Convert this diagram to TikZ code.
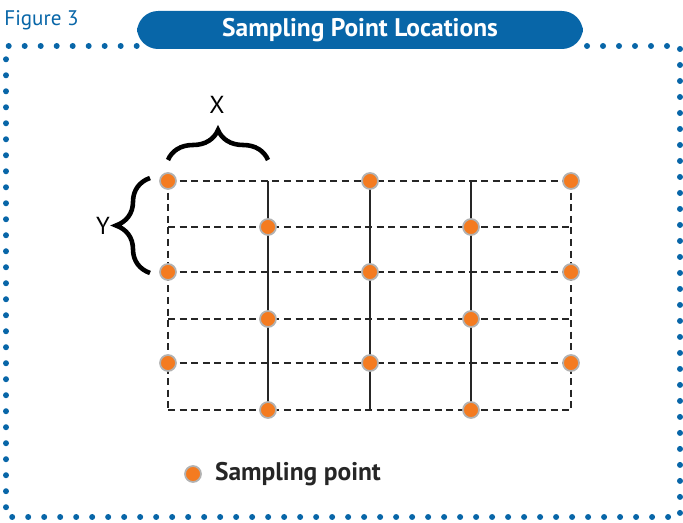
\documentclass[tikz,border=0pt]{standalone}
\usepackage{fontspec}
\setmainfont{PT Sans}
\usetikzlibrary{positioning,decorations.pathreplacing}
\definecolor{frameblue}{HTML}{0866A8}
\definecolor{dotorange}{HTML}{F47B20}

\begin{document}
\begin{tikzpicture}[
  x=0.02cm,y=-0.02cm,
  sample/.style={circle,fill=dotorange,draw=black!30,line width=1pt,minimum size=0.32cm,inner sep=0pt},
  gridline/.style={line width=0.8pt,black!85,dash pattern=on 4pt off 2.6pt},
  solidline/.style={line width=0.8pt,black!85},
  bracket/.style={decorate,decoration={brace,amplitude=#1},line width=2.6pt},
  dotframe/.style={frameblue,line width=0.12cm,line cap=round,dash pattern=on 0pt off 0.32cm},
  titlebar/.style={fill=frameblue,rounded corners=12pt,minimum width=8.92cm,minimum height=0.76cm,
    text=white,font=\fontsize{14.5}{14.5}\selectfont\bfseries}
]
  \useasboundingbox (0,0) rectangle (683,523);

  \node[titlebar] (title) at (360,30) {Sampling Point Locations};
  \node[frameblue,font=\fontsize{12}{12}\selectfont,inner sep=0pt,anchor=west] (fig) at (4,20) {Figure 3};
  \draw[dotframe] (title.west|-0,46) -- (6,46) -- (6,517) -- (680,517) -- (680,46) -- (title.east|-0,46);

  \foreach \x [count=\i] in {168,268,370,471,571}
    \foreach \y [count=\j] in {181,227,272,319,363,410}
      \coordinate (g\i\j) at (\x,\y);

  \foreach \j in {1,...,6}
    \draw[gridline] (g1\j) -- (g5\j);
  \draw[gridline] (g11) -- (g16);
  \draw[gridline] (g51) -- (g56);
  \foreach \i in {2,3,4}
    \draw[solidline] (g\i1) -- (g\i6);

  \foreach \i in {1,3,5}
    \foreach \j in {1,3,5}
      \node[sample] (s\i\j) at (g\i\j) {};
  \foreach \i in {2,4}
    \foreach \j in {2,4,6}
      \node[sample] (s\i\j) at (g\i\j) {};

  \coordinate (xa) at (168,160);
  \coordinate (xb) at (268,160);
  \coordinate (ya) at (150,273);
  \coordinate (yb) at (150,178);
  \draw[bracket=0.6cm] (xa) -- (xb);
  \draw[bracket=0.68cm] (ya) -- (yb);
  \node[font=\fontsize{14}{14}\selectfont] (xlabel) at (217,105) {X};
  \node[font=\fontsize{14}{14}\selectfont] (ylabel) at (103,226) {Y};

  \node[sample] (legdot) at (193,474) {};
  \node[right=0.14cm of legdot,font=\fontsize{14.5}{14.5}\selectfont\bfseries,text=black!85] (legtext) {Sampling point};
\end{tikzpicture}
\end{document}
